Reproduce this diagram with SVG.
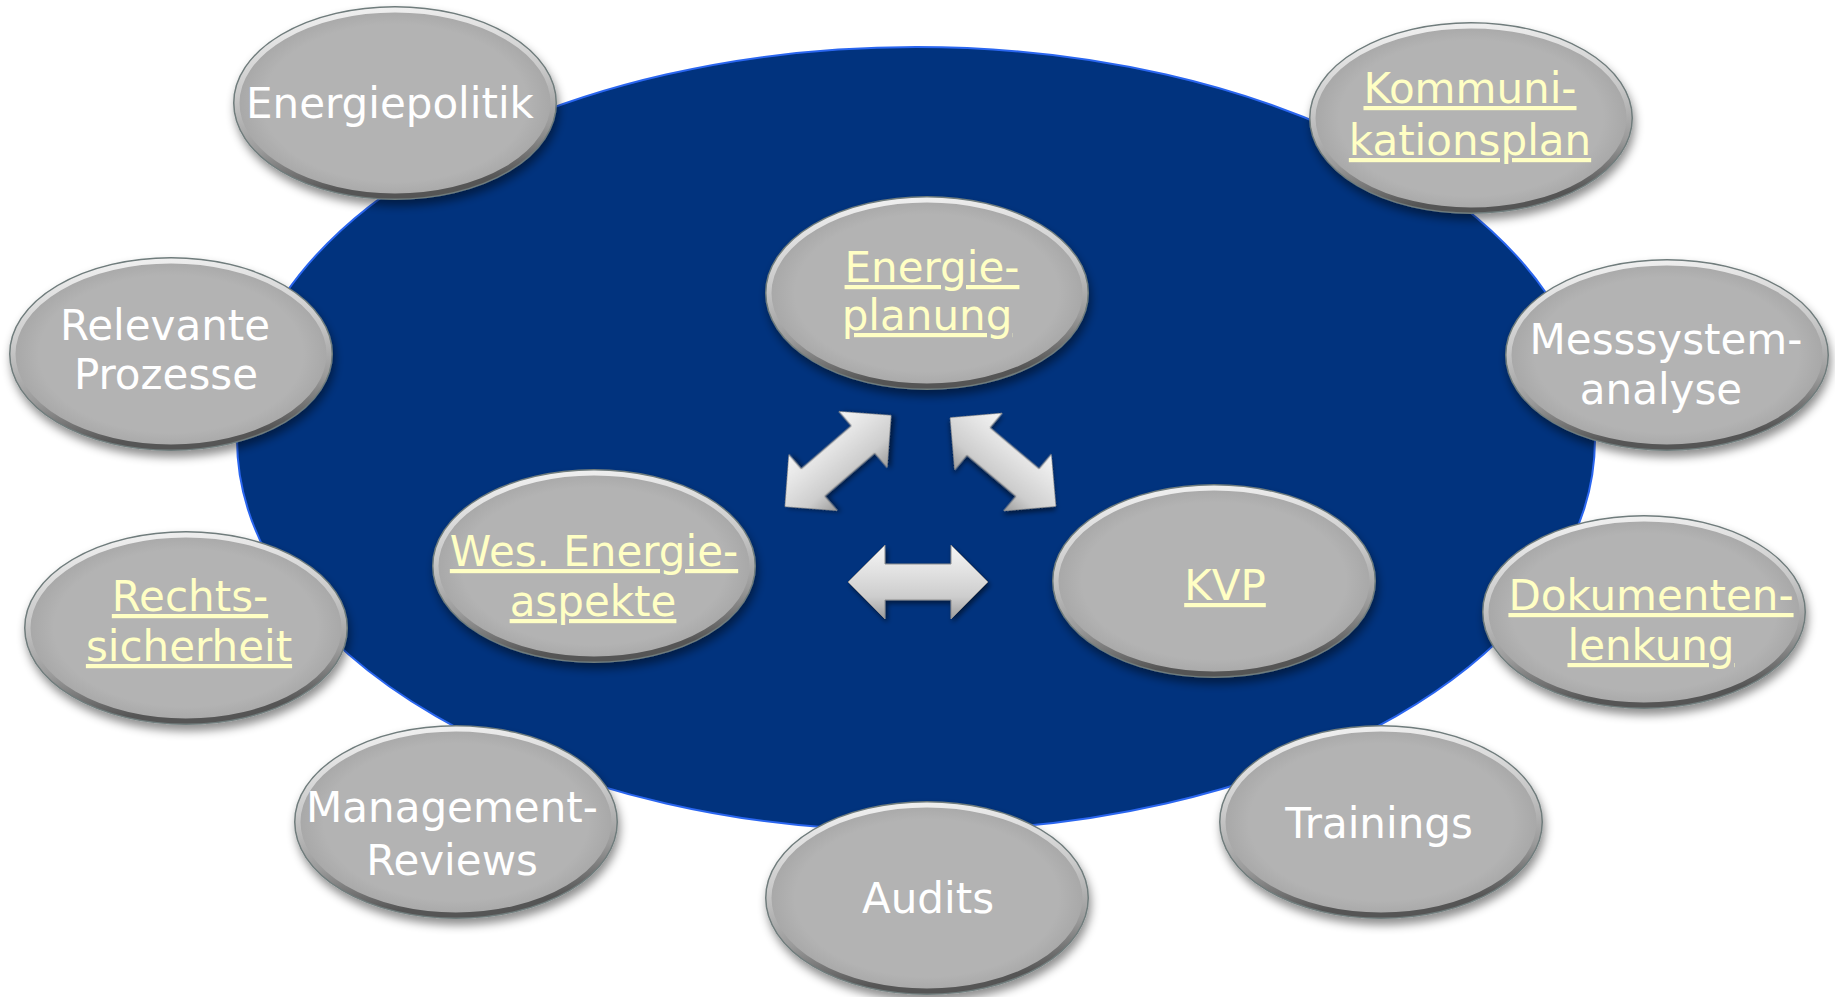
<svg xmlns="http://www.w3.org/2000/svg" width="1835" height="997" viewBox="0 0 1835 997">
<defs>
<style>
.base{fill:url(#face);stroke:#6f7c7c;stroke-width:2;filter:url(#sh)}
.rim{fill:none;stroke:url(#rim);stroke-width:5}
.t{font-family:"DejaVu Sans","Liberation Sans",sans-serif;font-size:42px;text-anchor:middle;fill:#ffffff}
.lk{fill:#ffffc4;text-decoration:underline}
.arr{fill:url(#ag);stroke:#8d8d8d;stroke-width:1;filter:url(#sh2)}
</style>
<radialGradient id="face" cx="0.5" cy="0.5" r="0.5">
<stop offset="0.82" stop-color="#b3b3b3"/>
<stop offset="1" stop-color="#a6a6a6"/>
</radialGradient>
<linearGradient id="rim" x1="0" y1="0" x2="0.15" y2="1">
<stop offset="0" stop-color="#f4f4f4"/>
<stop offset="0.45" stop-color="#c9c9c9"/>
<stop offset="0.75" stop-color="#9a9a9a"/>
<stop offset="1" stop-color="#555555"/>
</linearGradient>
<linearGradient id="ag" x1="0" y1="0" x2="0" y2="1">
<stop offset="0" stop-color="#f6f6f6"/>
<stop offset="0.35" stop-color="#e2e2e2"/>
<stop offset="0.7" stop-color="#cdcdcd"/>
<stop offset="1" stop-color="#9c9c9c"/>
</linearGradient>
<filter id="sh" x="-20%" y="-20%" width="140%" height="150%">
<feDropShadow dx="2" dy="6" stdDeviation="5" flood-color="#000000" flood-opacity="0.45"/>
</filter>
<filter id="sh2" x="-20%" y="-30%" width="140%" height="170%">
<feDropShadow dx="2" dy="3" stdDeviation="2.5" flood-color="#000000" flood-opacity="0.5"/>
</filter>
</defs>
<rect width="1835" height="997" fill="#ffffff"/>
<ellipse id="background" cx="916" cy="439" rx="679" ry="392" fill="#01337e" stroke="#2a66f0" stroke-width="2"/>

<g id="connectors">
<polygon class="arr" transform="translate(838,461) rotate(-40.7)" points="-70,0 -33,-37 -33,-18 33,-18 33,-37 70,0 33,37 33,18 -33,18 -33,37"/>
<polygon class="arr" transform="translate(1003,462) rotate(40)" points="-69,0 -32,-37 -32,-18 32,-18 32,-37 69,0 32,37 32,18 -32,18 -32,37"/>
<polygon class="arr" transform="translate(918,582)" points="-70,0 -33,-37 -33,-18 33,-18 33,-37 70,0 33,37 33,18 -33,18 -33,37"/>
</g>

<g id="energiepolitik">
<ellipse class="base" cx="395" cy="103" rx="161" ry="96"/>
<ellipse class="rim" cx="395" cy="103" rx="158" ry="93"/>
<text class="t" x="390" y="118">Energiepolitik</text>
</g>

<g id="kommunikationsplan">
<ellipse class="base" cx="1471" cy="118" rx="161" ry="95"/>
<ellipse class="rim" cx="1471" cy="118" rx="158" ry="92"/>
<text class="t lk" x="1470" y="103">Kommuni-</text>
<text class="t lk" x="1470" y="155">kationsplan</text>
</g>

<g id="energieplanung">
<ellipse class="base" cx="927" cy="293" rx="161" ry="96"/>
<ellipse class="rim" cx="927" cy="293" rx="158" ry="93"/>
<text class="t lk" x="932" y="282">Energie-</text>
<text class="t lk" x="927" y="330">planung</text>
</g>

<g id="relevante-prozesse">
<ellipse class="base" cx="171" cy="354" rx="161" ry="96"/>
<ellipse class="rim" cx="171" cy="354" rx="158" ry="93"/>
<text class="t" x="165" y="340">Relevante</text>
<text class="t" x="166" y="389">Prozesse</text>
</g>

<g id="messsystemanalyse">
<ellipse class="base" cx="1667" cy="355" rx="161" ry="95"/>
<ellipse class="rim" cx="1667" cy="355" rx="158" ry="92"/>
<text class="t" x="1666" y="354">Messsystem-</text>
<text class="t" x="1661" y="404">analyse</text>
</g>

<g id="wes-energieaspekte">
<ellipse class="base" cx="594" cy="566" rx="161" ry="96"/>
<ellipse class="rim" cx="594" cy="566" rx="158" ry="93"/>
<text class="t lk" x="594" y="566">Wes. Energie-</text>
<text class="t lk" x="593" y="616">aspekte</text>
</g>

<g id="kvp">
<ellipse class="base" cx="1214" cy="581" rx="161" ry="96"/>
<ellipse class="rim" cx="1214" cy="581" rx="158" ry="93"/>
<text class="t lk" x="1225" y="600">KVP</text>
</g>

<g id="rechtssicherheit">
<ellipse class="base" cx="186" cy="628" rx="161" ry="96"/>
<ellipse class="rim" cx="186" cy="628" rx="158" ry="93"/>
<text class="t lk" x="190" y="611">Rechts-</text>
<text class="t lk" x="189" y="661">sicherheit</text>
</g>

<g id="dokumentenlenkung">
<ellipse class="base" cx="1644" cy="612" rx="161" ry="96"/>
<ellipse class="rim" cx="1644" cy="612" rx="158" ry="93"/>
<text class="t lk" x="1651" y="610">Dokumenten-</text>
<text class="t lk" x="1651" y="660">lenkung</text>
</g>

<g id="management-reviews">
<ellipse class="base" cx="456" cy="822" rx="161" ry="96"/>
<ellipse class="rim" cx="456" cy="822" rx="158" ry="93"/>
<text class="t" x="452" y="822">Management-</text>
<text class="t" x="452" y="875">Reviews</text>
</g>

<g id="audits">
<ellipse class="base" cx="927" cy="898" rx="161" ry="96"/>
<ellipse class="rim" cx="927" cy="898" rx="158" ry="93"/>
<text class="t" x="928" y="913">Audits</text>
</g>

<g id="trainings">
<ellipse class="base" cx="1381" cy="822" rx="161" ry="96"/>
<ellipse class="rim" cx="1381" cy="822" rx="158" ry="93"/>
<text class="t" x="1379" y="838">Trainings</text>
</g>
</svg>
